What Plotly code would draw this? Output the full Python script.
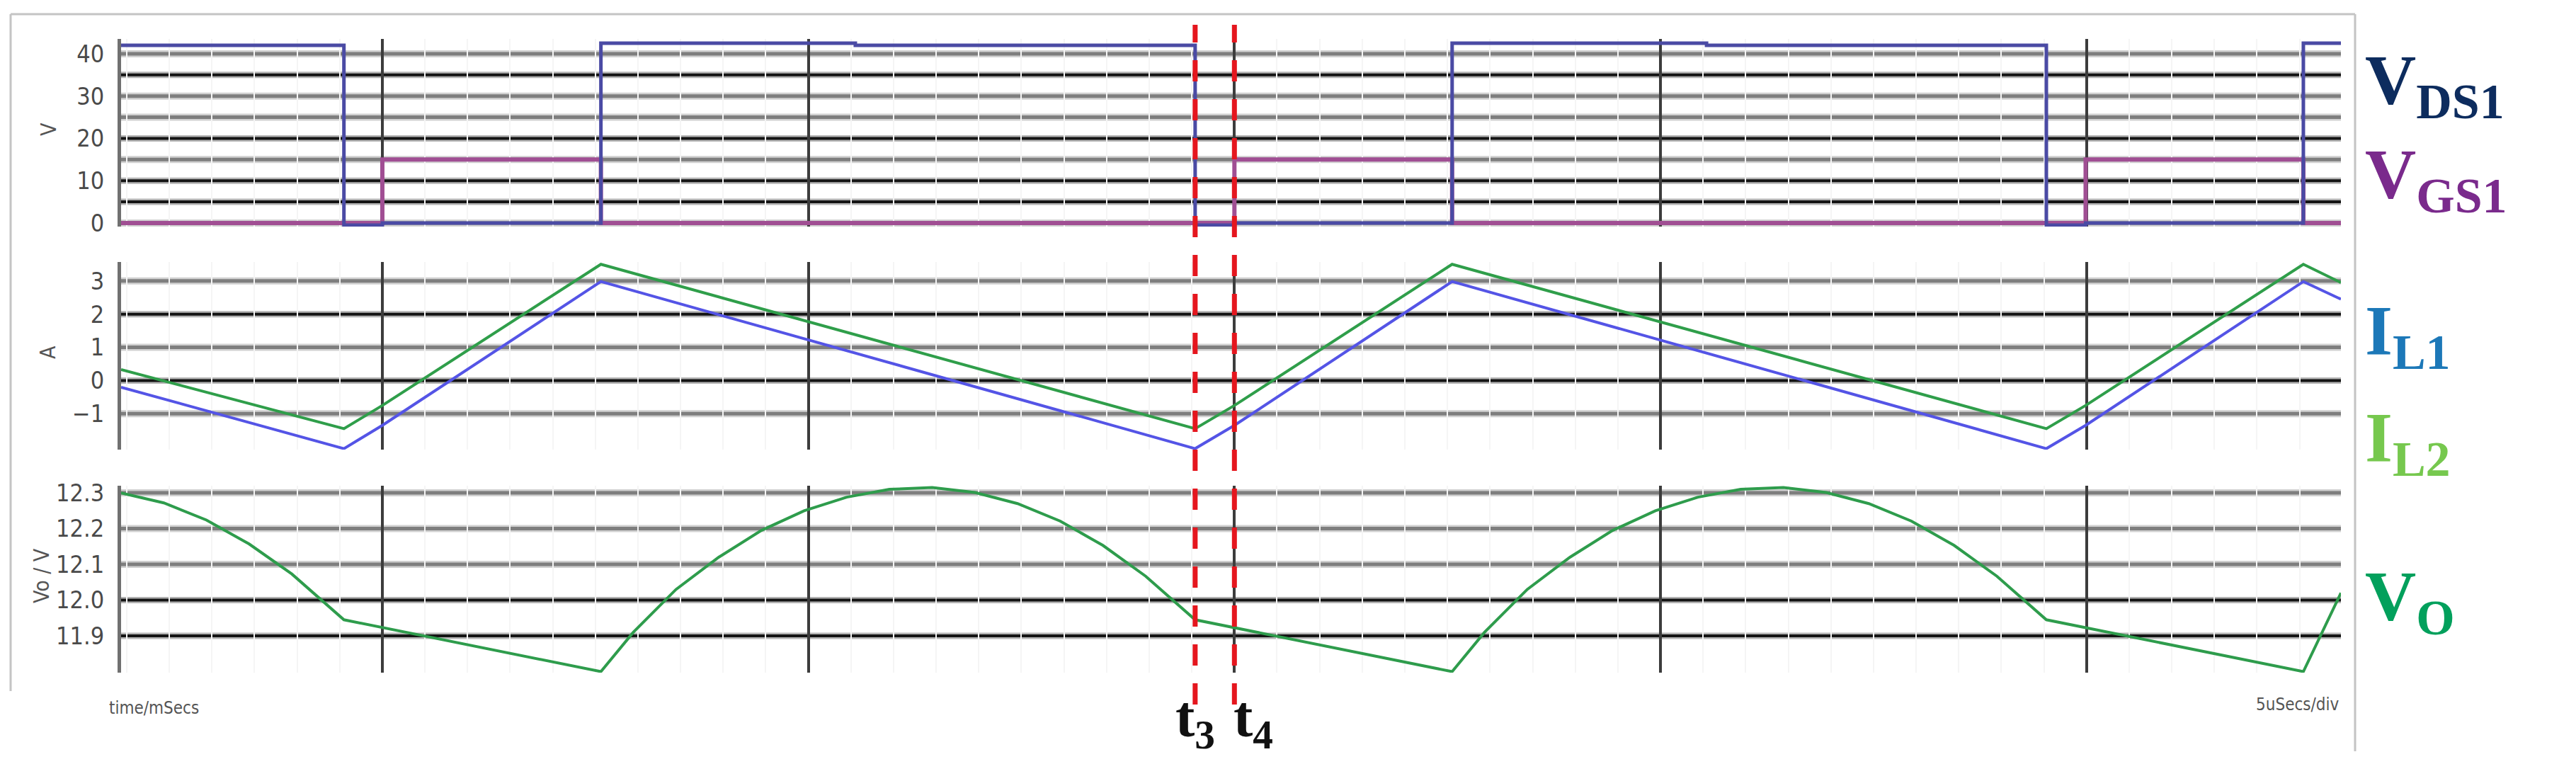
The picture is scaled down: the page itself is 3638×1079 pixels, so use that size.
import plotly.graph_objects as go

# ---------------- data ----------------
# time in microseconds, 5 us per major division
time_vds = [0, 2.61, 2.61, 3.06, 3.06, 5.62, 5.62, 8.60, 8.60, 12.58, 12.58, 13.04, 13.04,
            15.59, 15.59, 18.57, 18.57, 22.55, 22.55, 23.01, 23.01, 25.56, 25.56, 26.0]
vds = [42.0, 42.0, -0.5, -0.5, 0.0, 0.0, 42.5, 42.5, 42.0, 42.0, -0.5, -0.5, 0.0,
       0.0, 42.5, 42.5, 42.0, 42.0, -0.5, -0.5, 0.0, 0.0, 42.5, 42.5]

time_vgs = [0, 3.06, 3.06, 5.62, 5.62, 13.04, 13.04, 15.59, 15.59, 23.01, 23.01, 25.56, 25.56, 26.0]
vgs = [0, 0, 15, 15, 0, 0, 15, 15, 0, 0, 15, 15, 0, 0]

time_il = [0, 2.61, 3.06, 5.62, 12.58, 13.04, 15.59, 22.55, 23.01, 25.56, 26.0]
il1 = [-0.2, -2.05, -1.35, 2.98, -2.05, -1.35, 2.98, -2.05, -1.35, 2.98, 2.45]
il2 = [0.33, -1.45, -0.75, 3.5, -1.45, -0.75, 3.5, -1.45, -0.75, 3.5, 2.95]

time_vo = [0, 0.5, 1.0, 1.5, 2.0, 2.61, 5.62, 6.0, 6.5, 7.0, 7.5, 8.0, 8.5, 9.0, 9.5, 10.0,
           10.5, 11.0, 11.5, 12.0, 12.58, 15.59, 15.97, 16.47, 16.97, 17.47, 17.97, 18.47,
           18.97, 19.47, 19.97, 20.47, 20.97, 21.47, 21.97, 22.55, 25.56, 26.0]
vo = [12.30, 12.272, 12.224, 12.157, 12.073, 11.945, 11.80, 11.91, 12.03, 12.12, 12.195,
      12.25, 12.288, 12.31, 12.315, 12.301, 12.270, 12.221, 12.153, 12.067, 11.945, 11.80,
      11.91, 12.03, 12.12, 12.195, 12.25, 12.288, 12.31, 12.315, 12.301, 12.270, 12.221,
      12.153, 12.067, 11.945, 11.80, 12.02]

t_markers = [12.58, 13.04]
t_marker_labels = ["t<sub>3</sub>", "t<sub>4</sub>"]

v_ticks = [0, 10, 20, 30, 40]
i_ticks = [-1, 0, 1, 2, 3]
vo_ticks = [11.9, 12.0, 12.1, 12.2, 12.3]
vo_ticktext = ["11.9", "12.0", "12.1", "12.2", "12.3"]

v_grid = [40, 35, 30, 25, 20, 15, 10, 5, 0]
v_grid_kind = ["g", "k", "g", "g", "k", "g", "k", "k", "g"]
i_grid = [3, 2, 1, 0, -1]
i_grid_kind = ["g", "k", "g", "k", "g"]
vo_grid = [12.3, 12.2, 12.1, 12.0, 11.9]
vo_grid_kind = ["g", "g", "g", "k", "k"]

# ---------------- layout geometry ----------------
W, H = 3638, 1079
L, R = 163, 3298
PW = R - L


def px_x(p):
    return (p - L) / PW


def px_y(p):
    return 1 - p / H


fig = go.Figure()

# top panel
fig.add_trace(go.Scatter(x=time_vgs, y=vgs, mode="lines", line=dict(color="#a04e93", width=6),
                         xaxis="x", yaxis="y", showlegend=False))
fig.add_trace(go.Scatter(x=time_vds, y=vds, mode="lines", line=dict(color="#4a4aa4", width=5),
                         xaxis="x", yaxis="y", showlegend=False))
# middle panel
fig.add_trace(go.Scatter(x=time_il, y=il2, mode="lines", line=dict(color="#2f9e4a", width=4),
                         xaxis="x2", yaxis="y2", showlegend=False))
fig.add_trace(go.Scatter(x=time_il, y=il1, mode="lines", line=dict(color="#5454e6", width=4),
                         xaxis="x2", yaxis="y2", showlegend=False))
# bottom panel
fig.add_trace(go.Scatter(x=time_vo, y=vo, mode="lines", line=dict(color="#2e9c4c", width=4),
                         xaxis="x3", yaxis="y3", showlegend=False))

narrow = "Liberation Sans Narrow, DejaVu Sans Condensed, Liberation Sans"
tick_font = dict(family=narrow, size=34, color="#4a4a4a")

xcommon = dict(range=[0, 26], domain=[0, 1], showticklabels=False, ticks="",
               showgrid=True, gridcolor="#3c3c3c", gridwidth=4, tick0=3.06, dtick=4.99,
               zeroline=False, showline=False,
               minor=dict(showgrid=True, tick0=3.06, dtick=0.499, gridcolor="#f5f5f5", gridwidth=2))

ycommon = dict(showgrid=False, zeroline=False, showline=True, linecolor="#707070", linewidth=5,
               ticks="", tickfont=tick_font, ticklabelstandoff=12)

panels = {
    "top": (47, 312),
    "mid": (362, 627),
    "bot": (678, 942),
}

fig.update_layout(
    width=W, height=H,
    margin=dict(l=L, r=W - R, t=0, b=0, autoexpand=False),
    paper_bgcolor="white", plot_bgcolor="white",
    xaxis=dict(anchor="y", **xcommon),
    xaxis2=dict(anchor="y2", **xcommon),
    xaxis3=dict(anchor="y3", **xcommon),
    yaxis=dict(anchor="x", domain=[px_y(panels["top"][1]), px_y(panels["top"][0])],
               range=[-0.85, 43.5], tickvals=v_ticks, **ycommon),
    yaxis2=dict(anchor="x2", domain=[px_y(panels["mid"][1]), px_y(panels["mid"][0])],
                range=[-2.08, 3.57], tickvals=i_ticks, **ycommon),
    yaxis3=dict(anchor="x3", domain=[px_y(panels["bot"][1]), px_y(panels["bot"][0])],
                range=[11.797, 12.32], tickvals=vo_ticks, ticktext=vo_ticktext, **ycommon),
)

shapes = []


def add_grid(values, kinds, xr, yr):
    for v, k in zip(values, kinds):
        if k == "g":
            halo, core, cw = "#d0d0d0", "#7e7e7e", 5
        else:
            halo, core, cw = "#b4b4b4", "#141414", 4
        shapes.append(dict(type="line", xref=xr + " domain", yref=yr, x0=0, x1=1, y0=v, y1=v,
                           line=dict(color=halo, width=cw + 5), layer="below"))
        shapes.append(dict(type="line", xref=xr + " domain", yref=yr, x0=0, x1=1, y0=v, y1=v,
                           line=dict(color=core, width=cw), layer="below"))


add_grid(v_grid, v_grid_kind, "x", "y")
add_grid(i_grid, i_grid_kind, "x2", "y2")
add_grid(vo_grid, vo_grid_kind, "x3", "y3")

# red dashed markers t3 / t4
for t in t_markers:
    shapes.append(dict(type="line", xref="x", yref="paper", x0=t, x1=t,
                       y0=px_y(987), y1=px_y(27),
                       line=dict(color="#e5161e", width=7, dash="30px,25px"), layer="above"))

# window frame
frame_c = "#c4c4c4"
shapes.append(dict(type="line", xref="paper", yref="paper", x0=px_x(7), x1=px_x(3318),
                   y0=px_y(12), y1=px_y(12), line=dict(color=frame_c, width=3)))
shapes.append(dict(type="line", xref="paper", yref="paper", x0=px_x(7), x1=px_x(7),
                   y0=px_y(12), y1=px_y(968), line=dict(color=frame_c, width=3)))
shapes.append(dict(type="line", xref="paper", yref="paper", x0=px_x(3318), x1=px_x(3318),
                   y0=px_y(12), y1=px_y(1053), line=dict(color=frame_c, width=3)))

fig.update_layout(shapes=shapes)

ann = []
axis_title_font = dict(family=narrow, size=30, color="#555555")
ann.append(dict(text="V", x=px_x(60), y=px_y(175), xref="paper", yref="paper", showarrow=False,
                textangle=-90, xanchor="center", yanchor="middle", font=axis_title_font))
ann.append(dict(text="A", x=px_x(60), y=px_y(490), xref="paper", yref="paper", showarrow=False,
                textangle=-90, xanchor="center", yanchor="middle", font=axis_title_font))
ann.append(dict(text="Vo / V", x=px_x(50), y=px_y(805), xref="paper", yref="paper",
                showarrow=False, textangle=-90, xanchor="center", yanchor="middle",
                font=axis_title_font))

small_font = dict(family=narrow, size=24, color="#555555")
ann.append(dict(text="time/mSecs", x=px_x(144), y=px_y(1008), xref="paper", yref="paper",
                showarrow=False, xanchor="left", font=small_font))
ann.append(dict(text="5uSecs/div", x=px_x(3298), y=px_y(1003), xref="paper", yref="paper",
                showarrow=False, xanchor="right", font=small_font))

serif_b = "Liberation Serif, Times New Roman, serif"
labels = [
    ("V<sub>DS1</sub>", "#0d2c5e", 111),
    ("V<sub>GS1</sub>", "#7a2a8c", 244),
    ("I<sub>L1</sub>", "#1c78b8", 466),
    ("I<sub>L2</sub>", "#76c84e", 616),
    ("V<sub>O</sub>", "#02a05c", 840),
]
for txt, col, yc in labels:
    ann.append(dict(text="<b>" + txt + "</b>", x=px_x(3330), y=px_y(yc), xref="paper",
                    yref="paper", showarrow=False, xanchor="left", yanchor="middle",
                    font=dict(family=serif_b, size=100, color=col)))

xshift = [0, 27]
for t, lab, xs in zip(t_markers, t_marker_labels, xshift):
    ann.append(dict(text="<b>" + lab + "</b>", x=t, y=px_y(1010), xref="x", yref="paper",
                    xshift=xs, showarrow=False, xanchor="center", yanchor="middle",
                    font=dict(family=serif_b, size=82, color="#111111")))

fig.update_layout(annotations=ann)

fig.write_html("out.html")
